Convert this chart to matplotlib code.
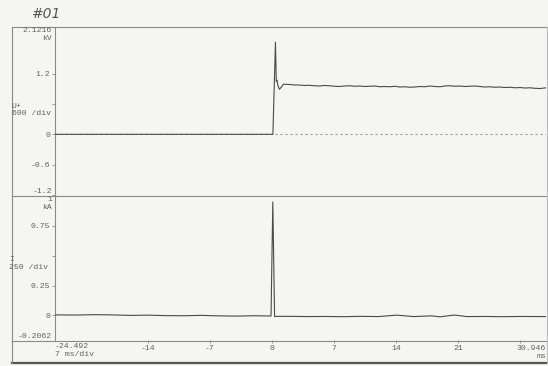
import matplotlib
matplotlib.use("Agg")
import matplotlib.pyplot as plt
from matplotlib.lines import Line2D
from matplotlib.transforms import blended_transform_factory as btf

# ---------------- data ----------------
t_min, t_max = -24.492, 30.946
x_ticks = [-14, -7, 0, 7, 14, 21, 28]
x_tick_labels = ["-14", "-7", "0", "7", "14", "21", ""]

# voltage U+ (kV)
u_t = [-24.492, 0.11, 0.40, 0.49, 0.57, 0.70, 0.85, 1.05, 1.3, 2.0, 2.6, 3.1, 3.7, 4.2, 4.8,
       5.4, 5.9, 6.5, 7.1, 7.6, 8.2, 8.8, 9.3, 9.9, 10.5, 11.0, 11.6, 12.2, 12.7, 13.3,
       13.9, 14.4, 15.0, 15.6, 16.1, 16.7, 17.3, 17.8, 18.4, 19.0, 19.5, 20.1, 20.7,
       21.2, 21.8, 22.3, 22.9, 23.5, 24.0, 24.6, 25.2, 25.7, 26.3, 26.9, 27.4, 28.0,
       28.6, 29.1, 29.7, 30.3, 30.946]
u_v = [0.0, 0.0, 1.82, 1.05, 1.07, 0.95, 0.89, 0.93, 0.99, 0.985, 0.975, 0.975, 0.965, 0.97,
       0.96, 0.955, 0.965, 0.96, 0.95, 0.945, 0.955, 0.96, 0.95, 0.955, 0.945, 0.95,
       0.955, 0.94, 0.945, 0.94, 0.95, 0.935, 0.94, 0.93, 0.935, 0.945, 0.94, 0.955,
       0.945, 0.94, 0.955, 0.96, 0.95, 0.955, 0.945, 0.95, 0.955, 0.945, 0.935, 0.94,
       0.93, 0.935, 0.925, 0.93, 0.92, 0.925, 0.915, 0.92, 0.91, 0.905, 0.92]
u_ylim = (-1.2, 2.1216)
u_ticks = [-1.2, -0.6, 0.0, 0.6, 1.2]
u_tick_labels = ["", "-0.6", "0", "", "1.2"]

# current I (kA)
i_t = [-24.492, -22, -20, -18, -16, -14, -12, -10, -8, -6, -4, -2, -0.5, -0.1, 0.1, 0.3,
       0.5, 2, 4, 6, 8, 10, 12, 14.1, 16, 18, 19, 20.6, 22, 24, 26, 28, 30.946]
i_v = [0.004, 0.003, 0.006, 0.004, 0.0, 0.002, -0.002, -0.003, 0.0, -0.004, -0.006,
       -0.003, -0.005, -0.005, 0.95, -0.01, -0.008, -0.008, -0.01, -0.009, -0.011,
       -0.008, -0.01, 0.002, -0.01, -0.004, -0.012, 0.003, -0.01, -0.009, -0.011,
       -0.009, -0.01]
i_ylim = (-0.2062, 1.0)
i_ticks = [0.0, 0.25, 0.5, 0.75]
i_tick_labels = ["0", "0.25", "", "0.75"]

# ---------------- figure ----------------
W, H = 548, 366
bg = "#f5f5f3"
fig = plt.figure(figsize=(W / 100, H / 100), dpi=100, facecolor=bg)
mono = "Liberation Mono"
tcol = "#606060"
fs = 5.9
lcol = "#8a8a8a"
trace = "#4a4a4a"


def fx(x):
    return x / W


def fy(y):
    return 1 - y / H


ax_l, ax_r = 55, 546
ax1 = fig.add_axes([fx(ax_l), fy(195), fx(ax_r - ax_l), (195 - 27) / H])
ax2 = fig.add_axes([fx(ax_l), fy(340), fx(ax_r - ax_l), (340 - 196) / H])

for ax in (ax1, ax2):
    ax.patch.set_visible(False)
    ax.set_xlim(t_min, t_max)
    for s in ("top", "right", "bottom"):
        ax.spines[s].set_visible(False)
    ax.spines["left"].set_color(lcol)
    ax.spines["left"].set_linewidth(0.8)
    ax.tick_params(axis="both", direction="out", length=2, width=0.6, color=lcol,
                   labelsize=fs, labelcolor=tcol, pad=1.5)

# upper: voltage
ax1.set_ylim(*u_ylim)
ax1.set_yticks(u_ticks, u_tick_labels, fontfamily=mono)
ax1.set_xticks([])
ax1.axhline(0, color="#9a9a9a", lw=0.8, ls=(0, (2, 2.5)), zorder=1)
ax1.plot(u_t, u_v, color=trace, lw=0.8, zorder=3)
tr1 = btf(ax1.transAxes, ax1.transData)
ax1.text(-0.006, u_ylim[1], "2.1216\nkV", transform=tr1, ha="right", va="top",
         fontsize=fs, color=tcol, family=mono, linespacing=1.1)
ax1.text(-0.006, u_ylim[0], "-1.2", transform=tr1, ha="right", va="bottom",
         fontsize=fs, color=tcol, family=mono)
ax1.text(fx(12), 0.62, "U+\n600 /div", transform=btf(fig.transFigure, ax1.transData),
         ha="left", va="top", fontsize=fs, color=tcol, family=mono, linespacing=1.1)

# lower: current
ax2.set_ylim(*i_ylim)
ax2.set_yticks(i_ticks, i_tick_labels, fontfamily=mono)
ax2.set_xticks(x_ticks, x_tick_labels, fontfamily=mono)
ax2.plot(i_t, i_v, color=trace, lw=0.8, zorder=3)
tr2 = btf(ax2.transAxes, ax2.transData)
ax2.text(-0.006, i_ylim[1], "1\nkA", transform=tr2, ha="right", va="top",
         fontsize=fs, color=tcol, family=mono, linespacing=1.1)
ax2.text(-0.006, i_ylim[0], "-0.2062", transform=tr2, ha="right", va="bottom",
         fontsize=fs, color=tcol, family=mono)
ax2.text(fx(9), 0.5, "I\n250 /div", transform=btf(fig.transFigure, ax2.transData),
         ha="left", va="top", fontsize=fs, color=tcol, family=mono, linespacing=1.3)
trx = btf(ax2.transData, fig.transFigure)
ax2.text(t_min, fy(343), "-24.492\n7 ms/div", transform=trx, ha="left", va="top",
         fontsize=fs, color=tcol, family=mono, linespacing=1.3)
ax2.text(t_max, fy(345), "30.946\nms", transform=trx, ha="right", va="top",
         fontsize=fs, color=tcol, family=mono, linespacing=1.3)

# frame lines (behind the texts)
def hline(y, x0=12, x1=548, lw=0.8, c=lcol):
    fig.add_artist(Line2D([fx(x0), fx(x1)], [fy(y), fy(y)], color=c, lw=lw, zorder=-1))


def vline(x, y0=27, y1=363, lw=0.8, c=lcol):
    fig.add_artist(Line2D([fx(x), fx(x)], [fy(y0), fy(y1)], color=c, lw=lw, zorder=-1))


hline(27)
hline(195.5)
hline(340.5)
hline(363, lw=1.6, c="#555555")
vline(12)
vline(547, c="#bbbbbb")

# handwritten label
fig.text(fx(46), fy(14), "#01", ha="center", va="center", fontsize=10, color="#555555",
         family="DejaVu Sans", style="italic", weight="light")

fig.savefig("out.png", dpi=100, facecolor=bg)
